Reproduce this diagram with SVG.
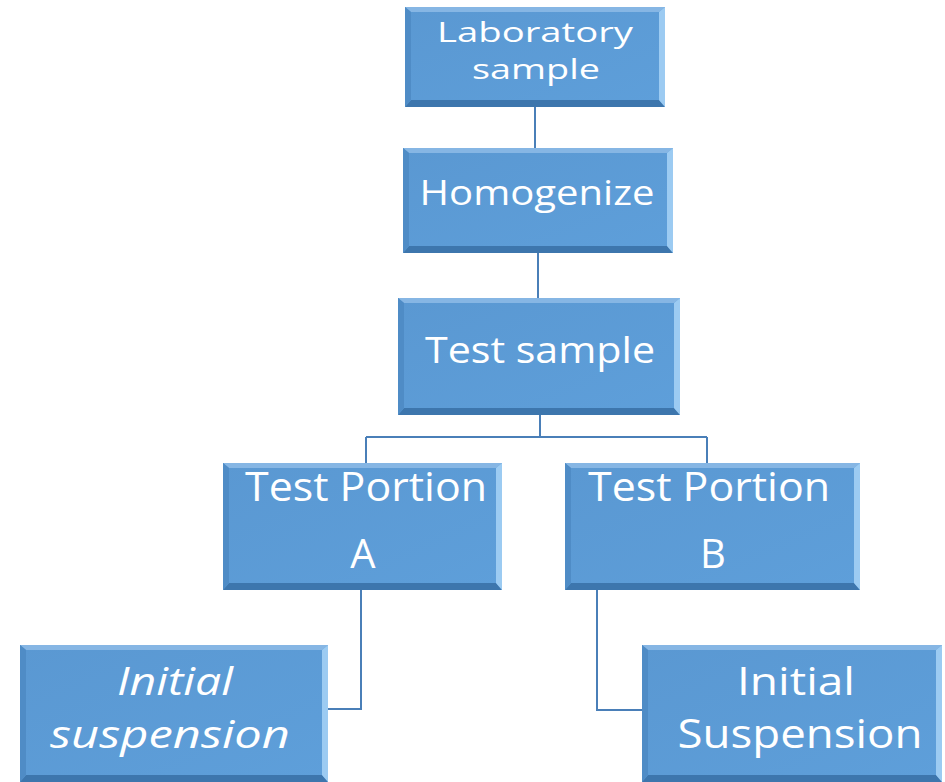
<svg xmlns="http://www.w3.org/2000/svg" width="945" height="782" viewBox="0 0 945 782">
<defs>
<linearGradient id="g" x1="0" y1="0" x2="1" y2="1">
<stop offset="0" stop-color="#5a98d2"/>
<stop offset="1" stop-color="#5e9fda"/>
</linearGradient>
</defs>
<style>
.box{fill:url(#g);}
.bt{fill:#86b6e4;}
.bb{fill:#3d76ad;}
.br{fill:#9ccbf2;}
.bl{fill:#4f8cc6;}
.t{font-family:"Open Sans","Liberation Sans",sans-serif;fill:#ffffff;text-anchor:middle;}
.i{font-style:italic;}
.c{fill:none;stroke:#4a7fb8;stroke-width:2;}
</style>
<rect width="945" height="782" fill="#ffffff"/>
<g id="connectors">
<path class="c" d="M535 107V148"/>
<path class="c" d="M538 253V298"/>
<path class="c" d="M540 415V437M366 437H707M366 437V463M707 437V463"/>
<path class="c" d="M361 590V709H328"/>
<path class="c" d="M597 590V710H642"/>
</g>
<g id="n1">
<rect class="box" x="405" y="7" width="260" height="100"/>
<polygon class="bt" points="405,7 665,7 659,12 411,12"/>
<polygon class="bb" points="405,107 665,107 659,100 411,100"/>
<polygon class="br" points="665,7 665,107 659,100 659,12"/>
<polygon class="bl" points="405,7 405,107 411,100 411,12"/>
<text class="t" x="535" y="42" font-size="27" textLength="196" lengthAdjust="spacingAndGlyphs">Laboratory</text>
<text class="t" x="536" y="79" font-size="27" textLength="128" lengthAdjust="spacingAndGlyphs">sample</text>
</g>
<g id="n2">
<rect class="box" x="403" y="148" width="270" height="105"/>
<polygon class="bt" points="403,148 673,148 667,153 409,153"/>
<polygon class="bb" points="403,253 673,253 667,246 409,246"/>
<polygon class="br" points="673,148 673,253 667,246 667,153"/>
<polygon class="bl" points="403,148 403,253 409,246 409,153"/>
<text class="t" x="537" y="205" font-size="34" textLength="235" lengthAdjust="spacingAndGlyphs">Homogenize</text>
</g>
<g id="n3">
<rect class="box" x="398" y="298" width="282" height="117"/>
<polygon class="bt" points="398,298 680,298 674,303 404,303"/>
<polygon class="bb" points="398,415 680,415 674,408 404,408"/>
<polygon class="br" points="680,298 680,415 674,408 674,303"/>
<polygon class="bl" points="398,298 398,415 404,408 404,303"/>
<text class="t" x="540" y="363" font-size="36" textLength="230" lengthAdjust="spacingAndGlyphs">Test sample</text>
</g>
<g id="n4">
<rect class="box" x="223" y="463" width="279" height="127"/>
<polygon class="bt" points="223,463 502,463 496,468 229,468"/>
<polygon class="bb" points="223,590 502,590 496,583 229,583"/>
<polygon class="br" points="502,463 502,590 496,583 496,468"/>
<polygon class="bl" points="223,463 223,590 229,583 229,468"/>
<text class="t" x="366" y="501" font-size="40" textLength="242" lengthAdjust="spacingAndGlyphs">Test Portion</text>
<text class="t" x="363" y="568" font-size="40">A</text>
</g>
<g id="n5">
<rect class="box" x="565" y="463" width="295" height="127"/>
<polygon class="bt" points="565,463 860,463 854,468 571,468"/>
<polygon class="bb" points="565,590 860,590 854,583 571,583"/>
<polygon class="br" points="860,463 860,590 854,583 854,468"/>
<polygon class="bl" points="565,463 565,590 571,583 571,468"/>
<text class="t" x="709" y="501" font-size="40" textLength="242" lengthAdjust="spacingAndGlyphs">Test Portion</text>
<text class="t" x="713" y="568" font-size="40">B</text>
</g>
<g id="n6">
<rect class="box" x="20" y="645" width="308" height="137"/>
<polygon class="bt" points="20,645 328,645 322,650 26,650"/>
<polygon class="bb" points="20,782 328,782 322,775 26,775"/>
<polygon class="br" points="328,645 328,782 322,775 322,650"/>
<polygon class="bl" points="20,645 20,782 26,775 26,650"/>
<text class="t i" x="175" y="695" font-size="38" textLength="116" lengthAdjust="spacingAndGlyphs">Initial</text>
<text class="t i" x="170" y="748" font-size="38" textLength="240" lengthAdjust="spacingAndGlyphs">suspension</text>
</g>
<g id="n7">
<rect class="box" x="642" y="645" width="300" height="137"/>
<polygon class="bt" points="642,645 942,645 936,650 648,650"/>
<polygon class="bb" points="642,782 942,782 936,775 648,775"/>
<polygon class="br" points="942,645 942,782 936,775 936,650"/>
<polygon class="bl" points="642,645 642,782 648,775 648,650"/>
<text class="t" x="796" y="695" font-size="38" textLength="118" lengthAdjust="spacingAndGlyphs">Initial</text>
<text class="t" x="800" y="748" font-size="40" textLength="245" lengthAdjust="spacingAndGlyphs">Suspension</text>
</g>
</svg>
